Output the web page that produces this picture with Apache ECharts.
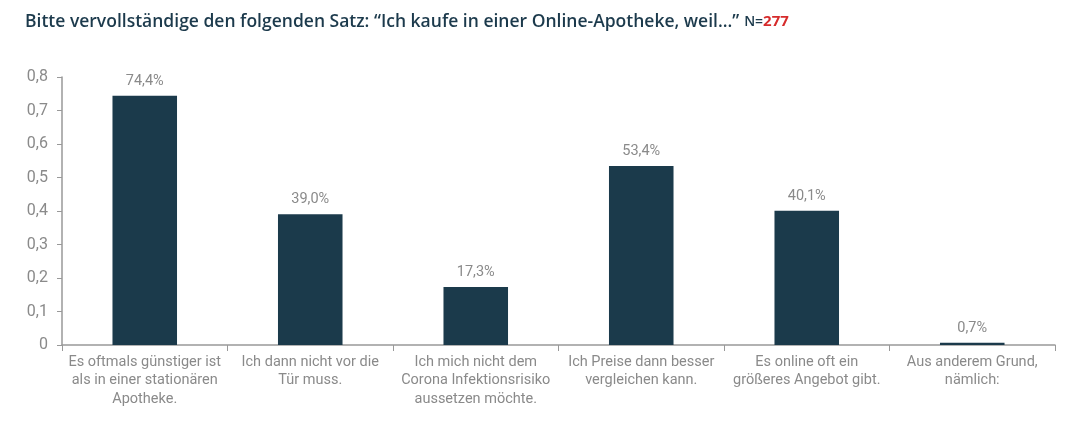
<!DOCTYPE html>
<html>
<head>
<meta charset="utf-8">
<script src="https://cdn.jsdelivr.net/npm/echarts@6/dist/echarts.min.js"></script>
<style>
  html, body { margin: 0; padding: 0; background: #fff; }
  #chart { width: 1080px; height: 423px; }
</style>
</head>
<body>
<div id="chart"></div>
<script>
// Daten
var categories = [
  "Es oftmals günstiger ist\nals in einer stationären\nApotheke.",
  "Ich dann nicht vor die\nTür muss.",
  "Ich mich nicht dem\nCorona Infektionsrisiko\naussetzen möchte.",
  "Ich Preise dann besser\nvergleichen kann.",
  "Es online oft ein\ngrößeres Angebot gibt.",
  "Aus anderem Grund,\nnämlich:"
];
var shares = [0.744, 0.390, 0.173, 0.534, 0.401, 0.007];
var yTicks = ["0", "0,1", "0,2", "0,3", "0,4", "0,5", "0,6", "0,7", "0,8"];

(function () {
  var myChart = echarts.init(document.getElementById("chart"));
  var grey = "#8a8a8a";
  var option = {
    animation: false,
    title: {
      left: 20,
      top: 8,
      text: "{t|Bitte vervollständige den folgenden Satz: “Ich kaufe in einer Online-Apotheke, weil…”} {n|N=}{r|277}",
      textStyle: {
        rich: {
          t: { fontFamily: "Open Sans", fontSize: 17.5, fontWeight: 600, color: "#1c3a4c" },
          n: { fontFamily: "Open Sans", fontSize: 14, fontWeight: 600, color: "#1c3a4c" },
          r: { fontFamily: "Open Sans", fontSize: 15, fontWeight: 700, color: "#d62b2b" }
        }
      }
    },
    grid: { left: 62, right: 25, top: 77, bottom: 78 },
    xAxis: {
      type: "category",
      data: categories,
      axisLine: { lineStyle: { color: "#999", width: 1.5 } },
      axisTick: { show: true, alignWithLabel: false, length: 6, lineStyle: { color: "#999" } },
      axisLabel: {
        interval: 0,
        color: grey,
        fontFamily: "Roboto",
        fontSize: 14.5,
        lineHeight: 18.5,
        margin: 8
      }
    },
    yAxis: {
      type: "value",
      min: 0,
      max: 0.8,
      interval: 0.1,
      splitLine: { show: false },
      axisLine: { show: true, lineStyle: { color: "#999", width: 1.5 } },
      axisTick: { show: true, length: 5, lineStyle: { color: "#999" } },
      axisLabel: {
        color: grey,
        fontFamily: "Roboto",
        fontSize: 16,
        margin: 14,
        formatter: function (v) { return yTicks[Math.round(v * 10)]; }
      }
    },
    series: [
      {
        type: "bar",
        data: shares,
        barWidth: "39%",
        itemStyle: { color: "#1b3a4b" },
        label: {
          show: true,
          position: "top",
          distance: 7,
          color: grey,
          fontFamily: "Roboto",
          fontSize: 14.5,
          formatter: function (p) {
            return (p.value * 100).toFixed(1).replace(".", ",") + "%";
          }
        }
      }
    ]
  };
  myChart.setOption(option);
})();
</script>
</body>
</html>
